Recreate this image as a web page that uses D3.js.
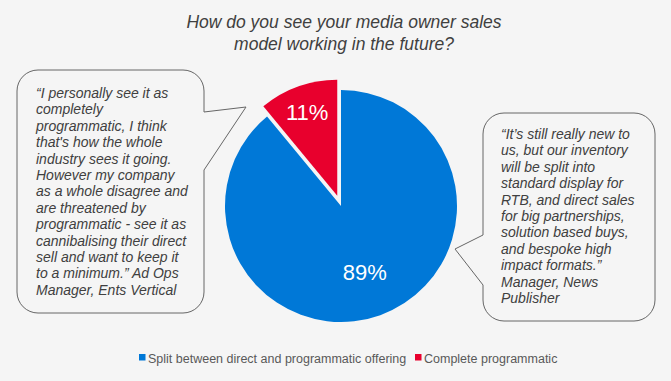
<!DOCTYPE html>
<html><head><meta charset="utf-8">
<script src="https://cdnjs.cloudflare.com/ajax/libs/d3/7.8.5/d3.min.js"></script>
<style>
html,body{margin:0;padding:0;background:#f5f5f5;}
svg{display:block;font-family:"Liberation Sans",Arial,sans-serif;}
</style></head>
<body>
<svg id="chart" width="671" height="381"></svg>
<script>
const categories = ["Split between direct and programmatic offering", "Complete programmatic"];
const values = [89, 11];
const labels = ["89%", "11%"];
const colors = ["#0078d7", "#e8002d"];
const titleLines = ["How do you see your media owner sales", "model working in the future?"];
const quoteLeft = ["\u201cI personally see it as", "completely", "programmatic, I think", "that's how the whole", "industry sees it going.", "However my company", "as a whole disagree and", "are threatened by", "programmatic - see it as", "cannibalising their direct", "sell and want to keep it", "to a minimum.\u201d Ad Ops", "Manager, Ents Vertical"];
const quoteRight = ["\u201cIt\u2019s still really new to", "us, but our inventory", "will be split into", "standard display for", "RTB, and direct sales", "for big partnerships,", "solution based buys,", "and bespoke high", "impact formats.\u201d", "Manager, News", "Publisher"];

const svg = d3.select("#chart");
svg.append("rect").attr("width",671).attr("height",381).attr("fill","#f5f5f5");

// title
svg.append("text").attr("x",344).attr("y",28).attr("text-anchor","middle")
  .attr("font-size",17.5).attr("font-style","italic").attr("fill","#404040")
  .selectAll("tspan").data(titleLines).join("tspan")
  .attr("x",344).attr("dy",(d,i)=>i?22:0).text(d=>d);

// speech bubbles
function bubble(x0,y0,x1,y1,r,side,p1,tip,p2){
  const p = d3.path();
  p.moveTo(x0+r,y0);
  p.lineTo(x1-r,y0);
  p.arcTo(x1,y0,x1,y0+r,r);
  if(side==="right"){ p.lineTo(x1,p1); p.lineTo(tip[0],tip[1]); p.lineTo(x1,p2); }
  p.lineTo(x1,y1-r);
  p.arcTo(x1,y1,x1-r,y1,r);
  p.lineTo(x0+r,y1);
  p.arcTo(x0,y1,x0,y1-r,r);
  if(side==="left"){ p.lineTo(x0,p2); p.lineTo(tip[0],tip[1]); p.lineTo(x0,p1); }
  p.lineTo(x0,y0+r);
  p.arcTo(x0,y0,x0+r,y0,r);
  p.closePath();
  return p.toString();
}
svg.append("path").attr("d",bubble(17,70,204,313,21,"right",112,[246,107],170))
  .attr("fill","none").attr("stroke","#666").attr("stroke-width",1);
svg.append("path").attr("d",bubble(483,113,655,321,21,"left",235,[455,249],285))
  .attr("fill","none").attr("stroke","#666").attr("stroke-width",1);

function quote(lines,x,y){
  svg.append("text").attr("font-size",14).attr("font-style","italic").attr("fill","#404040")
    .selectAll("tspan").data(lines).join("tspan")
    .attr("x",x).attr("y",(d,i)=>y+i*16.4).text(d=>d);
}
quote(quoteLeft,36,98);
quote(quoteRight,501,139);

// pie
const cx=341, cy=206, R=116, explode=11;
const pie = d3.pie().sort(null).value(d=>d)(values);
const arc = d3.arc().innerRadius(0).outerRadius(R);
const g = svg.append("g").attr("transform",`translate(${cx},${cy})`);
const slices = g.selectAll("g.slice").data(pie).join("g")
  .attr("transform",(d,i)=>{
    if(i!==1) return null;
    const a=(d.startAngle+d.endAngle)/2;
    return `translate(${Math.sin(a)*explode},${-Math.cos(a)*explode})`;
  });
slices.append("path").attr("d",arc).attr("fill",(d,i)=>colors[i]);
const labelR=[70,89];
slices.append("text")
  .attr("transform",(d,i)=>{const a=(d.startAngle+d.endAngle)/2; return `translate(${Math.sin(a)*labelR[i]},${-Math.cos(a)*labelR[i]})`;})
  .attr("text-anchor","middle").attr("dy","0.36em")
  .attr("font-size",22).attr("fill","#fff").text((d,i)=>labels[i]);

// legend
const legX=[139,415];
const lg = svg.append("g").selectAll("g").data(categories).join("g")
  .attr("transform",(d,i)=>`translate(${legX[i]},354)`);
lg.append("rect").attr("width",6.5).attr("height",6.5).attr("fill",(d,i)=>colors[i]);
lg.append("text").attr("x",9).attr("y",9).attr("font-size",12.5).attr("fill","#595959").text(d=>d);
</script>
</body></html>
